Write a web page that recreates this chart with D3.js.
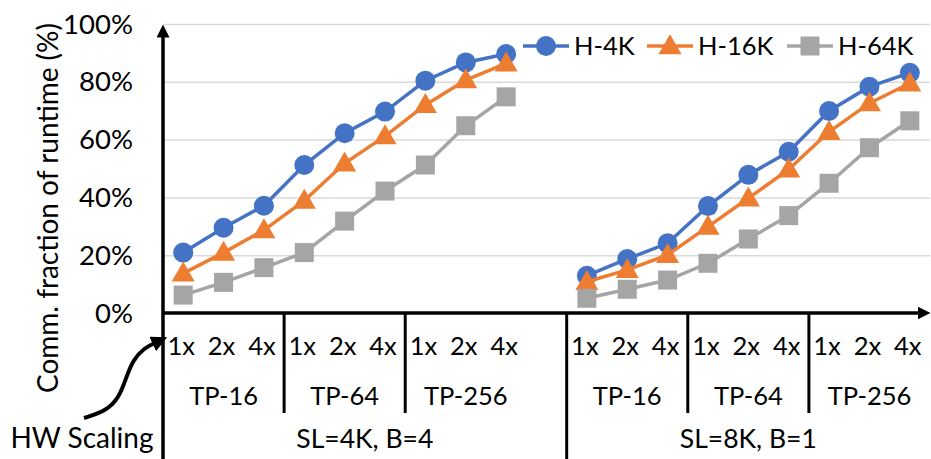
<!DOCTYPE html>
<html><head><meta charset="utf-8">
<script src="https://cdn.jsdelivr.net/npm/d3@7"></script>
<style>
body{margin:0;background:#fff;}
svg{display:block;font-family:Lato,"Open Sans",sans-serif;}
</style></head>
<body>
<script>
// ---- data ----
const hwScales = ["1x","2x","4x"];
const tpGroups = ["TP-16","TP-64","TP-256"];
const configs = ["SL=4K, B=4","SL=8K, B=1"];
const seriesNames = ["H-4K","H-16K","H-64K"];
const seriesColors = ["#4472C4","#ED7D31","#A5A5A5"];
const yTicks = [0,0.2,0.4,0.6,0.8,1.0];
// values per config (9 points each: TP-16 1x..4x, TP-64 1x..4x, TP-256 1x..4x)
const h4k_sl4k  = [0.209,0.295,0.371,0.512,0.622,0.697,0.804,0.867,0.896];
const h16k_sl4k = [0.137,0.209,0.287,0.389,0.518,0.612,0.720,0.806,0.864];
const h64k_sl4k = [0.062,0.106,0.157,0.209,0.318,0.422,0.512,0.648,0.748];
const h4k_sl8k  = [0.129,0.187,0.241,0.370,0.478,0.558,0.699,0.783,0.831];
const h16k_sl8k = [0.108,0.149,0.201,0.299,0.397,0.497,0.627,0.726,0.795];
const h64k_sl8k = [0.051,0.082,0.114,0.172,0.256,0.337,0.449,0.572,0.665];
const seriesValues = [[h4k_sl4k,h4k_sl8k],[h16k_sl4k,h16k_sl8k],[h64k_sl4k,h64k_sl8k]];

// ---- layout ----
const W=931,H=459, X0=163, X1=930, Y0=313, Y1=24;
const svg=d3.select("body").append("svg").attr("width",W).attr("height",H);

// category list (blank category after first config)
const cats=[];
configs.forEach((c,ci)=>{
  tpGroups.forEach((t,ti)=>hwScales.forEach((h,hi)=>cats.push({key:`${ci}-${ti}-${hi}`,ci,ti,hi,label:h})));
  if(ci===0) cats.push({key:`${ci}-blank`,ci,ti:2,hi:-1,label:""});
});
const x=d3.scaleBand().domain(cats.map(d=>d.key)).range([X0,X1]).paddingInner(0).paddingOuter(0);
const cx=k=>x(k)+x.bandwidth()/2;
const y=d3.scaleLinear().domain([0,1]).range([Y0,Y1]);

// gridlines
svg.append("g").attr("transform",`translate(${X0},0)`)
  .call(d3.axisLeft(y).tickValues(yTicks.slice(1)).tickSize(-(X1-X0)).tickFormat(""))
  .call(g=>g.select(".domain").remove())
  .call(g=>g.selectAll("line").attr("stroke","#D9D9D9").attr("stroke-width",1.5));

// y tick labels
svg.append("g").attr("transform",`translate(${X0},0)`)
  .call(d3.axisLeft(y).tickValues(yTicks).tickSize(0).tickPadding(30).tickFormat(d3.format(".0%")))
  .call(g=>g.select(".domain").remove())
  .call(g=>g.selectAll("text").attr("font-size",27.5).attr("font-family","Lato").attr("fill","#000").attr("dy",9));

// y title
svg.append("text").attr("transform","translate(58,208) rotate(-90)")
  .attr("text-anchor","middle").attr("font-size",28).text("Comm. fraction of runtime (%)");

// arrowhead defs
const defs=svg.append("defs");
defs.append("marker").attr("id","ah").attr("viewBox","0 0 10 10").attr("refX",5).attr("refY",5)
  .attr("markerWidth",13).attr("markerHeight",13).attr("markerUnits","userSpaceOnUse").attr("orient","auto")
  .append("path").attr("d","M0,0L10,5L0,10Z").attr("fill","#000");
defs.append("marker").attr("id","ah2").attr("viewBox","0 0 10 10").attr("refX",3).attr("refY",5)
  .attr("markerWidth",4).attr("markerHeight",4).attr("orient","auto")
  .append("path").attr("d","M0,0L10,5L0,10Z").attr("fill","#000");

// axes lines
svg.append("line").attr("x1",X0).attr("x2",X0).attr("y1",H).attr("y2",Y1+7)
  .attr("stroke","#000").attr("stroke-width",3.5).attr("marker-end","url(#ah)");
svg.append("line").attr("x1",X0).attr("x2",X1-6).attr("y1",Y0).attr("y2",Y0)
  .attr("stroke","#000").attr("stroke-width",3.5).attr("marker-end","url(#ah)");

// category separators
const tpBounds=[];
configs.forEach((c,ci)=>tpGroups.forEach((t,ti)=>{
  const ks=cats.filter(d=>d.ci===ci&&d.ti===ti);
  tpBounds.push({ci,ti,x0:x(ks[0].key),x1:x(ks[ks.length-1].key)+x.bandwidth(),
    lc:(cx(ks[0].key)+cx(ks[2].key))/2,label:t});
}));
tpBounds.forEach(b=>{
  if(b.ti>0) svg.append("line").attr("x1",b.x0).attr("x2",b.x0).attr("y1",Y0).attr("y2",413)
    .attr("stroke","#000").attr("stroke-width",3);
  else if(b.ci>0) svg.append("line").attr("x1",b.x0).attr("x2",b.x0).attr("y1",Y0).attr("y2",H)
    .attr("stroke","#000").attr("stroke-width",3);
  svg.append("text").attr("x",b.lc).attr("y",405).attr("text-anchor","middle")
    .attr("font-size",25.5).text(b.label);
});
// hw labels
svg.append("g").selectAll("text").data(cats.filter(d=>d.label)).join("text")
  .attr("x",d=>cx(d.key)-2).attr("y",355).attr("text-anchor","middle")
  .attr("font-size",25.5).text(d=>d.label);
// config labels
configs.forEach((c,ci)=>{
  const ks=cats.filter(d=>d.ci===ci);
  const mid=(x(ks[0].key)+x(ks[ks.length-1].key)+x.bandwidth())/2;
  svg.append("text").attr("x",mid).attr("y",448).attr("text-anchor","middle")
    .attr("font-size",26.5).text(c);
});
svg.append("text").attr("x",82).attr("y",448).attr("text-anchor","middle")
  .attr("font-size",28).text("HW Scaling");

// curved annotation arrow
const curvePts=[[84,418],[106,411],[119,398],[126,378],[133,360],[144,348],[157,342]];
svg.append("path").attr("d",d3.line().curve(d3.curveBasis)(curvePts))
  .attr("fill","none").attr("stroke","#000").attr("stroke-width",4).attr("marker-end","url(#ah2)");

// series
const sym=[d3.symbolCircle,d3.symbolTriangle,d3.symbolSquare];
const symSize=[314,230,361];
seriesNames.forEach((name,si)=>{
  const g=svg.append("g");
  seriesValues[si].forEach((vals,ci)=>{
    const pts=vals.map((v,i)=>({k:`${ci}-${Math.floor(i/3)}-${i%3}`,v}));
    g.append("path").attr("d",d3.line().x(d=>cx(d.k)).y(d=>y(d.v))(pts))
      .attr("fill","none").attr("stroke",seriesColors[si]).attr("stroke-width",3.5);
    g.selectAll(null).data(pts).join("path")
      .attr("transform",d=>`translate(${cx(d.k)},${y(d.v)+(si===1?1.5:0)})`)
      .attr("d",d3.symbol(sym[si],symSize[si])).attr("fill",seriesColors[si]);
  });
});

// legend
const legX=[523,647,787];
seriesNames.forEach((name,si)=>{
  const g=svg.append("g").attr("transform",`translate(${legX[si]},46)`);
  g.append("line").attr("x1",0).attr("x2",46).attr("stroke",seriesColors[si]).attr("stroke-width",3.5);
  g.append("path").attr("transform",`translate(23,${si===1?1.5:0})`).attr("d",d3.symbol(sym[si],symSize[si])).attr("fill",seriesColors[si]);
  g.append("text").attr("x",51).attr("y",9).attr("font-size",25.5).text(name);
});
</script>
</body></html>
